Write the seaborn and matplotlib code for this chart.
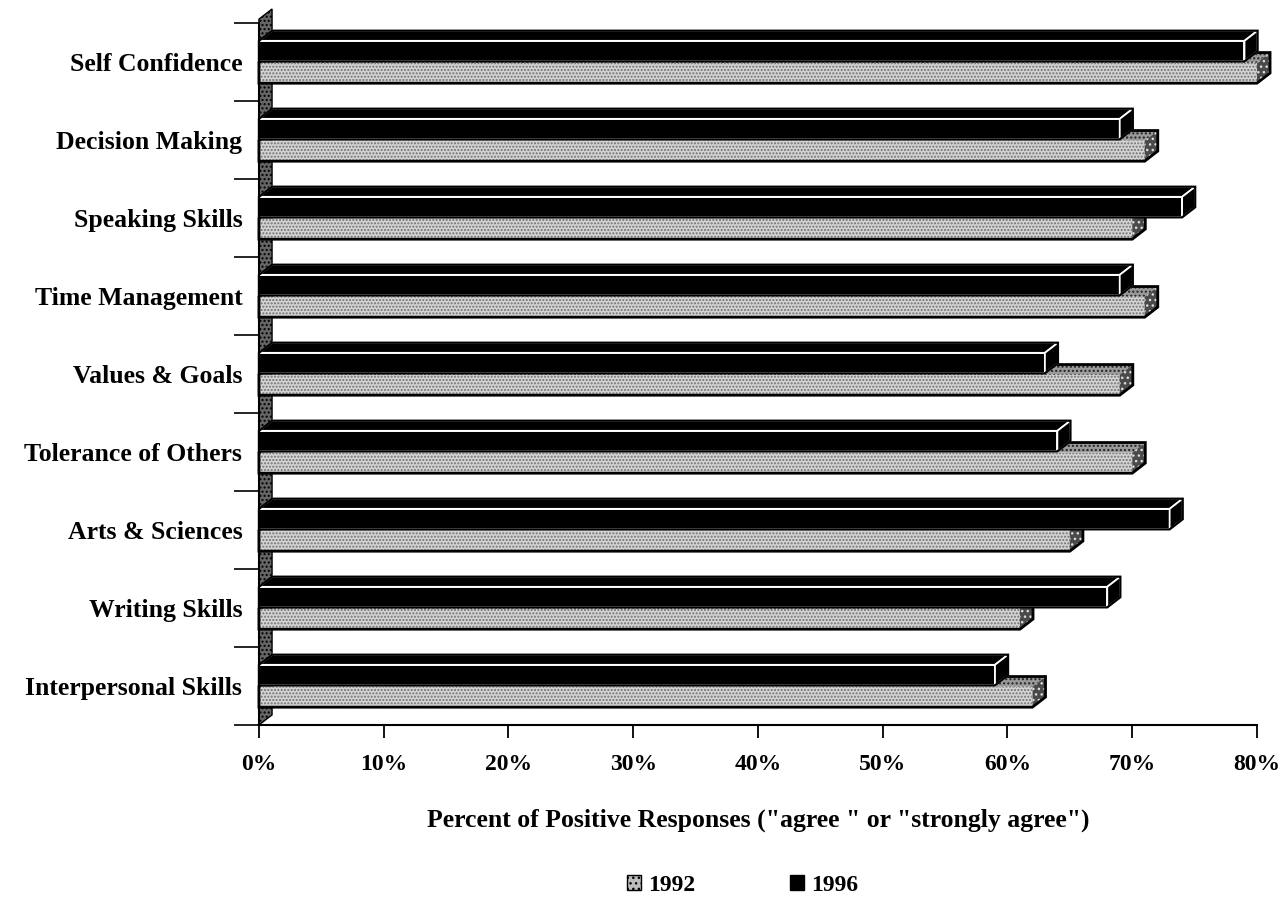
import numpy as np
import pandas as pd
import matplotlib
matplotlib.use('Agg')
import matplotlib.pyplot as plt
import seaborn as sb
from matplotlib.patches import Polygon, Patch
from matplotlib.ticker import FixedLocator

# dados do grafico
categorias = ['Self Confidence', 'Decision Making', 'Speaking Skills', 'Time Management',
              'Values & Goals', 'Tolerance of Others', 'Arts & Sciences', 'Writing Skills',
              'Interpersonal Skills']
valores_1992 = [80, 71, 70, 71, 69, 70, 65, 61, 62]
valores_1996 = [79, 69, 74, 69, 63, 64, 73, 68, 59]
anos = ['1996', '1992']
x_ticks = [0, 10, 20, 30, 40, 50, 60, 70, 80]

dados = pd.DataFrame({
    'Categoria': categorias * 2,
    'Ano': ['1996'] * len(categorias) + ['1992'] * len(categorias),
    'Valor': valores_1996 + valores_1992,
})

sb.set_style('white')
plt.rcParams['font.family'] = ['Liberation Serif', 'DejaVu Serif']
plt.rcParams['font.weight'] = 'bold'
plt.rcParams['text.color'] = 'black'
plt.rcParams['xtick.color'] = 'black'
plt.rcParams['ytick.color'] = 'black'
plt.rcParams['axes.labelcolor'] = 'black'
plt.rcParams['hatch.linewidth'] = 1.0

fig = plt.figure(figsize=(12.8, 9.21), dpi=100)
ax = fig.add_axes([0.2023, 0.2128, 0.7797, 0.7622])

cores = {'1996': 'black', '1992': '#d4d4d4'}
sb.barplot(dados, y='Categoria', x='Valor', hue='Ano', hue_order=anos, palette=cores,
           orient='h', width=0.56, gap=0.06, legend=False, ax=ax, linewidth=0, saturation=1)

ax.set_xlim(0, 80)
ax.set_ylim(8.5, -0.5)

# efeito 3D
dx = 1.05
dy = 0.13
for p in ax.patches:
    x0, y0, w, h = p.get_x(), p.get_y(), p.get_width(), p.get_height()
    preto = p.get_facecolor()[0] < 0.5
    topo = [(x0, y0), (x0 + dx, y0 - dy), (x0 + w + dx, y0 - dy), (x0 + w, y0)]
    lado = [(x0 + w, y0), (x0 + w + dx, y0 - dy), (x0 + w + dx, y0 + h - dy), (x0 + w, y0 + h)]
    contorno = [(x0, y0 + h), (x0 + w, y0 + h), (x0 + w + dx, y0 + h - dy), (x0 + w + dx, y0 - dy),
                (x0 + dx, y0 - dy), (x0, y0)]
    if preto:
        p.set_edgecolor('white')
        p.set_linewidth(1.3)
        p.set_zorder(4)
        ax.add_patch(Polygon(topo, closed=True, facecolor='black', edgecolor='white', lw=1.3, zorder=4, clip_on=False))
        ax.add_patch(Polygon(lado, closed=True, facecolor='black', edgecolor='white', lw=1.3, zorder=4, clip_on=False))
        ax.add_patch(Polygon(contorno, closed=True, fill=False, edgecolor='black', lw=1.6, zorder=4.5, clip_on=False))
    else:
        p.set_hatch('.....')
        p.set_edgecolor('#707070')
        p.set_linewidth(0)
        p.set_zorder(2)
        ax.add_patch(Polygon(topo, closed=True, facecolor='#9a9a9a', edgecolor='#222222', hatch='....', lw=0, zorder=2, clip_on=False))
        ax.add_patch(Polygon(lado, closed=True, facecolor='#4a4a4a', edgecolor='#dddddd', hatch='...', lw=0, zorder=2, clip_on=False))
        ax.add_patch(Polygon(contorno, closed=True, fill=False, edgecolor='black', lw=2, zorder=2.5, clip_on=False))

# parede lateral do eixo
ax.add_patch(Polygon([(0, 8.5), (dx, 8.5 - dy), (dx, -0.5 - dy - 0.05), (0, -0.5 - 0.05)], closed=True,
                     facecolor='#666666', edgecolor='black', hatch='....', lw=1, zorder=1, clip_on=False))

sb.despine(ax=ax)
ax.spines['left'].set_linewidth(1.5)
ax.spines['bottom'].set_linewidth(1.5)
ax.spines['left'].set_zorder(5)
ax.spines['left'].set_color('black')
ax.spines['bottom'].set_color('black')

ax.set_xticks(x_ticks)
ax.set_xticklabels([f'{t}%' for t in x_ticks], fontsize=17, fontweight='bold')
ax.tick_params(axis='x', bottom=True, direction='out', length=9, width=1.3, pad=12)
ax.tick_params(axis='y', which='major', left=False, length=0, pad=12, labelsize=18.5)
ax.yaxis.set_minor_locator(FixedLocator(np.arange(-0.5, 9, 1)))
ax.tick_params(axis='y', which='minor', left=True, direction='out', length=18, width=1.2)
for t in ax.get_yticklabels():
    t.set_fontweight('bold')

ax.set_ylabel('')
ax.set_xlabel('Percent of Positive Responses ("agree " or "strongly agree")', fontsize=18.5,
              fontweight='bold', labelpad=24)

# legenda
handles = [Patch(facecolor='#bdbdbd', edgecolor='black', hatch='...', label='1992'),
           Patch(facecolor='black', edgecolor='black', label='1996')]
fig.legend(handles=handles, loc='center', bbox_to_anchor=(0.58, 0.039), ncol=2, frameon=False,
           prop={'size': 17, 'weight': 'bold'}, columnspacing=4, handlelength=0.6, handleheight=0.6, handletextpad=0.3)

plt.savefig('out.png', dpi=100)
